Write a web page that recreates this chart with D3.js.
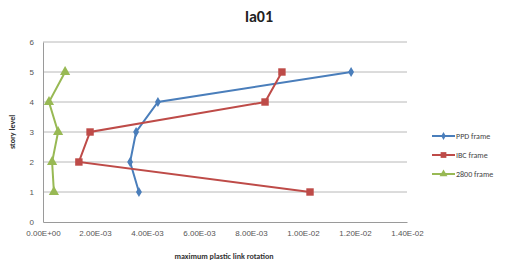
<!DOCTYPE html>
<html><head><meta charset="utf-8">
<script src="https://cdn.jsdelivr.net/npm/d3@7"></script>
<style>body{margin:0;background:#fff;} svg{display:block;font-family:Calibri,"Liberation Sans",Arial,sans-serif;}</style>
</head><body>
<script>
const levels = [1, 2, 3, 4, 5];
const ppd = [0.00369, 0.00335, 0.00358, 0.00442, 0.01185];
const ibc = [0.01027, 0.00138, 0.00181, 0.00854, 0.00919];
const f2800 = [0.00042, 0.00035, 0.00058, 0.00023, 0.00085];
const seriesNames = ["PPD frame", "IBC frame", "2800 frame"];
const xTicks = [0, 0.002, 0.004, 0.006, 0.008, 0.010, 0.012, 0.014];
const xTickLabels = ["0.00E+00","2.00E-03","4.00E-03","6.00E-03","8.00E-03","1.00E-02","1.20E-02","1.40E-02"];
const yTicks = [0, 1, 2, 3, 4, 5, 6];

const W = 513, H = 263;
const svg = d3.select("body").append("svg").attr("width", W).attr("height", H);
const x = d3.scaleLinear().domain([0, 0.014]).range([43, 407]);
const y = d3.scaleLinear().domain([0, 6]).range([222, 42]);

svg.append("g").selectAll("line").data(yTicks.slice(1)).join("line")
  .attr("x1", x(0)).attr("x2", x(0.014)).attr("y1", d => y(d)).attr("y2", d => y(d))
  .attr("stroke", "#b8b8b8").attr("stroke-width", 1);

const xa = svg.append("g").attr("transform", `translate(0,${y(0)})`)
  .call(d3.axisBottom(x).tickValues(xTicks).tickFormat((d, i) => xTickLabels[i]).tickSize(0).tickPadding(8));
const ya = svg.append("g").attr("transform", `translate(${x(0)},0)`)
  .call(d3.axisLeft(y).tickValues(yTicks).tickFormat(d3.format("d")).tickSize(0).tickPadding(9));
[xa, ya].forEach(a => {
  a.select(".domain").attr("stroke", "#9a9a9a");
  a.selectAll("text").attr("fill", "#555").style("font-size", "8px");
});

const colors = ["#4a7ebb", "#be4b48", "#98b954"];
const data = [ppd, ibc, f2800];
const line = d3.line().x(d => x(d[0])).y(d => y(d[1]));
const shapes = [d3.symbolDiamond, d3.symbolSquare, d3.symbolTriangle];
const sizes = [30, 55, 45];

data.forEach((vals, i) => {
  const pts = vals.map((v, j) => [v, levels[j]]);
  svg.append("path").datum(pts).attr("d", line).attr("fill", "none")
    .attr("stroke", colors[i]).attr("stroke-width", 2);
  svg.append("g").selectAll("path").data(pts).join("path")
    .attr("transform", d => `translate(${x(d[0])},${y(d[1])})`)
    .attr("d", d3.symbol().type(shapes[i]).size(sizes[i]))
    .attr("fill", colors[i]);
});

const lg = svg.append("g");
seriesNames.forEach((n, i) => {
  const ly = 136 + i * 19;
  lg.append("line").attr("x1", 432).attr("x2", 455).attr("y1", ly).attr("y2", ly)
    .attr("stroke", colors[i]).attr("stroke-width", 2);
  lg.append("path").attr("transform", `translate(443.5,${ly})`)
    .attr("d", d3.symbol().type(shapes[i]).size(sizes[i] * 0.6)).attr("fill", colors[i]);
  lg.append("text").attr("x", 456).attr("y", ly).attr("dy", "0.35em")
    .style("font-size", "8px").attr("fill", "#444").text(n);
});

svg.append("text").attr("x", 259).attr("y", 22).attr("text-anchor", "middle")
  .style("font-size", "16px").style("font-weight", "bold").attr("fill", "#222").text("la01");
svg.append("text").attr("transform", `translate(15,132) rotate(-90)`).attr("text-anchor", "middle")
  .style("font-size", "8px").style("font-weight", "bold").attr("fill", "#333").text("story level");
svg.append("text").attr("x", 224).attr("y", 259).attr("text-anchor", "middle")
  .style("font-size", "8px").style("font-weight", "bold").attr("fill", "#333").text("maximum plastic link rotation");
</script>
</body></html>
